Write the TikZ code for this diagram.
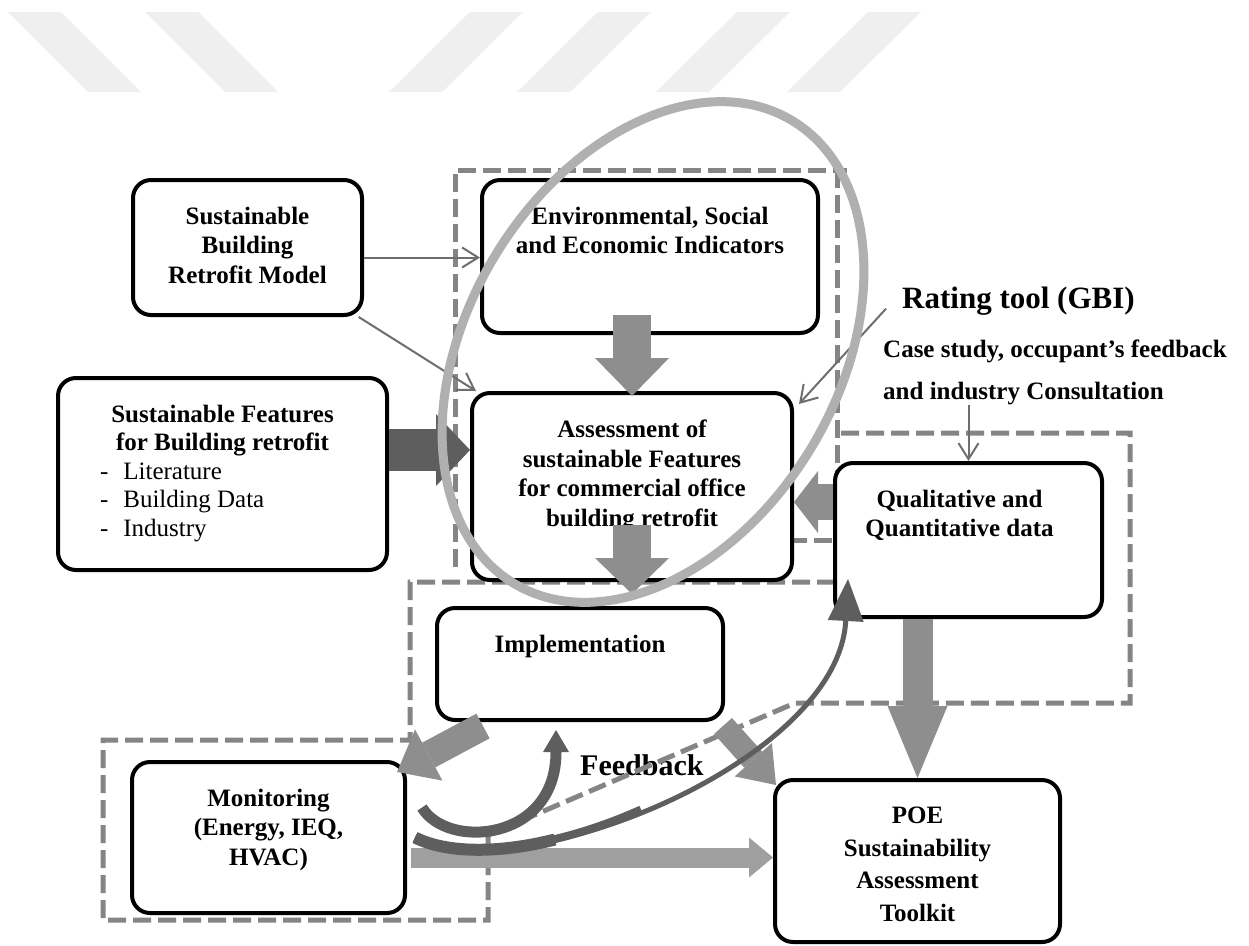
\documentclass[tikz,border=0pt]{standalone}
\usepackage{fontspec}
\setmainfont{Liberation Serif}
\usetikzlibrary{arrows.meta, calc, positioning}
\definecolor{stripe}{HTML}{EFEFEF}
\definecolor{framegray}{HTML}{858585}
\definecolor{ringgray}{HTML}{B0B0B0}
\definecolor{linegray}{HTML}{6E6E6E}
\definecolor{blockgray}{HTML}{8E8E8E}
\definecolor{darkblock}{HTML}{5E5E5E}
% text of a box, set from the top
\newcommand{\boxtxt}[4][29.5]{\parbox[c][#3][t]{#2}{\fontsize{25}{#1}\selectfont\bfseries\vspace*{27pt}\centering #4}}
\newcommand{\dashitem}[1]{\hspace*{42pt}-\hspace{15pt}#1}
\tikzset{
    box/.style = {draw, line width=4pt, rounded corners=18pt, fill=white, inner sep=0pt},
    dashframe/.style = {draw=framegray, line width=5pt, dash pattern=on 18pt off 7pt},
    thinarrow/.style = {draw=linegray, line width=2pt, -{Straight Barb[length=16pt, width=20pt]}},
    block/.style = {draw=blockgray, line cap=butt},
    curvy/.style = {draw=darkblock, line cap=butt},
    lbl/.style = {inner sep=0pt, font=\bfseries\fontsize{25}{29.5}\selectfont}
}

\begin{document}
\begin{tikzpicture}[x=1pt, y=-1pt]
    \fill[white] (0,0) rectangle (1249,945);
    \useasboundingbox (0,0) rectangle (1249,945);
    % watermark stripes
    \foreach \x in {8,145}
        \fill[stripe] (\x,12) -- ++(53,0) -- ++(80,80) -- ++(-53,0) -- cycle;
    \foreach \x in {470,598,737,868}
        \fill[stripe] (\x,12) -- ++(53,0) -- ++(-81,80) -- ++(-53,0) -- cycle;

    \node[lbl, font=\bfseries\fontsize{30}{36}\selectfont, anchor=base west] (feedback) at (580,775) {Feedback};

    % dashed groups
    \draw[dashframe] (455,567) -- (455,170) -- (847,170);
    \draw[dashframe] (837,170) -- (837,540) -- (793,540);
    \draw[dashframe] (835,582) -- (410,582) -- (410,740) -- (103,740) -- (103,920) -- (488,920)
        -- (488,835) -- (795,703) -- (1130,703) -- (1130,433) -- (837,433);

    % boxes
    \node[box] (model) at (247.5,247.5) {\boxtxt{229pt}{135pt}{Sustainable\\Building\\Retrofit Model}};
    \node[box] (env) at (650,256.5) {\boxtxt{336pt}{153pt}{Environmental, Social\\and Economic Indicators}};
    \node[box] (assess) at (632,486.5) {\boxtxt{320pt}{187pt}{Assessment of\\sustainable Features\\for commercial office\\building retrofit}};
    \node[box] (feat) at (222.5,474) {\parbox[c][192pt][t]{329pt}{\fontsize{25}{28.5}\selectfont\vspace*{27pt}%
        {\centering\bfseries Sustainable Features\\for Building retrofit\par}%
        \dashitem{Literature}\\\dashitem{Building Data}\\\dashitem{Industry}}};
    \node[box] (qual) at (968.5,540) {\boxtxt{267pt}{154pt}{\hspace*{-18pt}Qualitative and\\\hspace*{-18pt}Quantitative data}};
    \node[box] (impl) at (580,664) {\boxtxt{286pt}{112pt}{Implementation}};
    \node[box] (mon) at (268.5,837.5) {\boxtxt{273pt}{151pt}{Monitoring\\(Energy, IEQ,\\HVAC)}};
    \node[box] (poe) at (917.5,861) {\boxtxt[32.5]{285pt}{162pt}{POE\\Sustainability\\Assessment\\Toolkit}};

    \node[lbl, font=\bfseries\fontsize{31}{36}\selectfont, anchor=base west] (rating) at (902,308) {Rating tool (GBI)};
    \node[lbl, anchor=base west] (case1) at (883,357) {Case study, occupant’s feedback};
    \node[lbl, below=19pt of case1.south west, anchor=north west] (case2) {and industry Consultation};

    % thin arrows
    \coordinate (m0) at ([yshift=-10pt]model.east);
    \draw[thinarrow] (m0) -- (m0 -| env.west);
    \draw[thinarrow] (model.-32) -- ([xshift=6pt]assess.north west);
    \draw[thinarrow] ([xshift=-16pt, yshift=-8pt]rating.west) -- ([xshift=5pt]assess.27);
    \draw[thinarrow] (case2.south -| qual.north) -- (qual.north);

    % block arrows
    \coordinate (e1) at ($(env.south -| assess.north)+(0,-20)$);
    \draw[block, line width=38pt, -{Triangle[width=74pt, length=38pt, line width=0pt]}] (e1) -- ($(assess.north)+(0,5)$);
    \coordinate (f1) at ($(feat.east)+(0,-24)$);
    \draw[block, draw=darkblock, line width=42pt, -{Triangle[width=72pt, length=34pt, line width=0pt]}] (f1) -- (f1 -| assess.west);
    \coordinate (a1) at ($(assess.south)+(0,-57)$);
    \draw[block, line width=38pt, -{Triangle[width=74pt, length=36pt, line width=0pt]}] (a1) -- ($(impl.north -| assess.south)+(0,-12)$);
    \coordinate (q1) at ($(qual.west)+(0,-38)$);
    \draw[block, line width=36pt, -{Triangle[width=62pt, length=24pt, line width=0pt]}] (q1) -- (q1 -| assess.east);
    \draw[block, line width=30pt, -{Triangle[width=60pt, length=72pt, line width=0pt]}] (qual.south -| poe.north) -- (poe.north);
    \coordinate (i1) at ($(impl.south west)+(48,4)$);
    \draw[block, line width=28pt, -{Triangle[width=58pt, length=36pt, line width=0pt]}] (i1) -- ($(mon.north east)+(-10,12)$);
    \draw[block, line width=24pt, -{Triangle[width=50pt, length=34pt, line width=0pt]}] ($(impl.south east)+(-2,4)$) -- ($(poe.north west)+(3,7)$);
    \coordinate (m1) at ($(mon.east)+(4,20)$);
    \draw[block, draw=gray!75, line width=20pt, -{Triangle[width=40pt, length=24pt, line width=0pt]}] (m1) -- (m1 -| poe.west);

    % ring round the assessment
    \draw[ringgray, line width=9pt, rotate around={59:(653,352)}] (653,352) ellipse [x radius=270pt, y radius=185pt];

    % feedback curves
    \coordinate (c1) at ($(mon.east)+(15,-30)$);
    \draw[curvy, line width=11pt, -{Triangle[width=26pt, length=22pt, line width=0pt]}] (c1) .. controls +(25,42) and +(0,112) .. ($(impl.south)+(-24,8)$);
    \coordinate (c2) at ($(mon.east)+(8,0)$);
    \draw[curvy, line width=5pt, -{Triangle[width=36pt, length=42pt, line width=0pt]}] (c2) .. controls +(107,52) and +(-10,183) .. ($(qual.south west)+(15,-40)$);
    \draw[curvy, line width=8pt] (c2) .. controls +(48,23) and +(-87,39) .. ($(c2)+(226,-28)$);
    \draw[curvy, line width=12pt] (c2) .. controls +(32,16) and +(-56,14) .. ($(c2)+(140,2)$);
\end{tikzpicture}
\end{document}
